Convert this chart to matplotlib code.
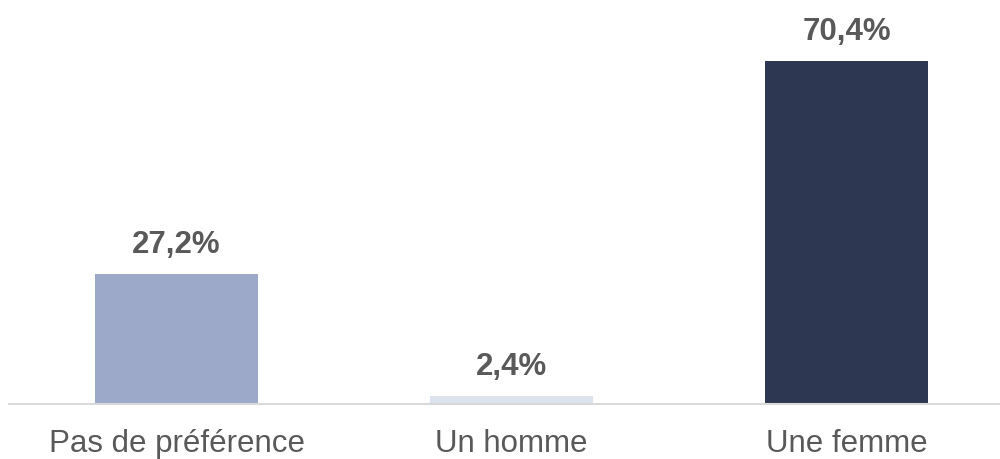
import matplotlib.pyplot as plt

categories = ['Pas de préférence', 'Un homme', 'Une femme']
values = [27.2, 2.4, 70.4]
labels = ['27,2%', '2,4%', '70,4%']
colors = ['#9DA9C9', '#DDE2EF', '#2E3752']

plt.rcParams['font.family'] = ['Liberation Sans', 'DejaVu Sans']

fig = plt.figure(figsize=(10, 4.59), dpi=100)
ax = fig.add_axes([0.009, 55 / 459, 0.991, 404 / 459])

x = range(len(categories))
bars = ax.bar(x, values, width=0.487, color=colors)
for b, lab in zip(bars, labels):
    ax.annotate(lab, (b.get_x() + b.get_width() / 2, b.get_height()),
                xytext=(0, 15), textcoords='offset points', ha='center', va='baseline',
                fontsize=22.5, fontweight='bold', color='#595959')

ax.set_xlim(-0.5, (1000 - 9) / 335 - 0.5)
ax.set_ylim(0.83, 82.8)
ax.set_xticks(list(x))
ax.set_xticklabels(categories, fontsize=22.5, color='#595959')
ax.tick_params(axis='x', length=0, pad=18)
ax.set_yticks([])
for s in ['top', 'right', 'left']:
    ax.spines[s].set_visible(False)
ax.spines['bottom'].set_color('#D9D9D9')
ax.spines['bottom'].set_linewidth(1.5)

fig.savefig('out.png', dpi=100)
